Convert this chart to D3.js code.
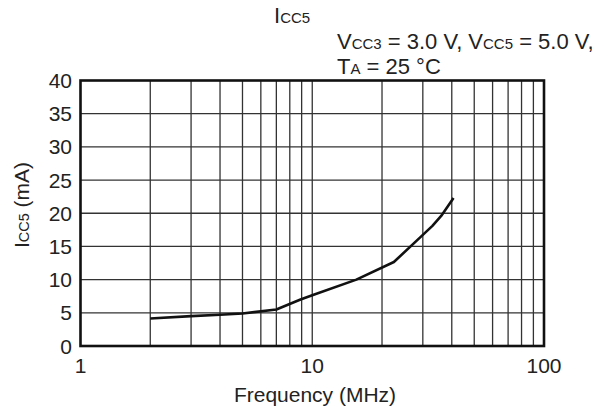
<!DOCTYPE html>
<html>
<head>
<meta charset="utf-8">
<script src="https://cdn.jsdelivr.net/npm/d3@7"></script>
<style>
  html, body { margin: 0; padding: 0; background: #fff; }
  svg { display: block; }
  text { font-family: "Liberation Sans", Arial, Helvetica, sans-serif; fill: #222; }
</style>
</head>
<body>
<svg id="chart" width="604" height="408"></svg>
<script>
// Data
const freqMHz = [2, 3, 4, 5, 7, 8.9, 10, 15.5, 22.5, 29.3, 33, 36, 40.7];
const iccMA   = [4.15, 4.5, 4.7, 4.9, 5.5, 7.0, 7.65, 10.0, 12.65, 16.4, 18.1, 19.6, 22.3];
const xTickLabels = [1, 10, 100];
const yTickLabels = [0, 5, 10, 15, 20, 25, 30, 35, 40];
const xGrid = [2, 3, 4, 5, 6, 7, 8, 9, 20, 30, 40, 50, 60, 70, 80, 90];

const svg = d3.select("#chart");
const L = 80.5, R = 544, T = 80.5, B = 346;

const x = d3.scaleLog().domain([1, 100]).range([L, R]);
const y = d3.scaleLinear().domain([0, 40]).range([B, T]);

const tick = 21, main = 22, sub = 15;

// grid
const g = svg.append("g");
g.selectAll("line.vx").data(xGrid.concat([10])).enter().append("line")
  .attr("x1", d => x(d)).attr("x2", d => x(d)).attr("y1", T).attr("y2", B)
  .attr("stroke", "#333").attr("stroke-width", 1.3);
g.selectAll("line.hy").data(yTickLabels.slice(1, -1)).enter().append("line")
  .attr("x1", L).attr("x2", R).attr("y1", d => y(d)).attr("y2", d => y(d))
  .attr("stroke", "#333").attr("stroke-width", 1.3);

// border
svg.append("rect").attr("x", L).attr("y", T).attr("width", R - L).attr("height", B - T)
  .attr("fill", "none").attr("stroke", "#111").attr("stroke-width", 2.6);

// curve
const pts = freqMHz.map((f, i) => [f, iccMA[i]]);
svg.append("path").datum(pts)
  .attr("d", d3.line().x(d => x(d[0])).y(d => y(d[1])))
  .attr("fill", "none").attr("stroke", "#111").attr("stroke-width", 2.6)
  .attr("stroke-linejoin", "round");

// tick labels
svg.selectAll("text.yt").data(yTickLabels).enter().append("text")
  .attr("x", 72).attr("y", d => y(d)).attr("dy", "0.36em")
  .attr("text-anchor", "end").attr("font-size", tick).text(d => d);
svg.selectAll("text.xt").data(xTickLabels).enter().append("text")
  .attr("x", d => x(d)).attr("y", 373)
  .attr("text-anchor", "middle").attr("font-size", tick).text(d => d);

// axis titles
svg.append("text").attr("x", 315).attr("y", 402).attr("text-anchor", "middle")
  .attr("font-size", tick).text("Frequency (MHz)");

const yt = svg.append("text").attr("transform", "translate(29,205) rotate(-90)")
  .attr("text-anchor", "middle").attr("font-size", tick);
yt.append("tspan").text("I");
yt.append("tspan").attr("font-size", 14.5).text("CC5");
yt.append("tspan").text(" (mA)");

// title
const tt = svg.append("text").attr("x", 274).attr("y", 23).attr("font-size", main);
tt.append("tspan").text("I");
tt.append("tspan").attr("font-size", sub).text("CC5");

// conditions
const c1 = svg.append("text").attr("x", 337).attr("y", 49).attr("font-size", main);
c1.append("tspan").text("V");
c1.append("tspan").attr("font-size", sub).text("CC3");
c1.append("tspan").text(" = 3.0 V, V");
c1.append("tspan").attr("font-size", sub).text("CC5");
c1.append("tspan").text(" = 5.0 V,");

const c2 = svg.append("text").attr("x", 337).attr("y", 74).attr("font-size", main);
c2.append("tspan").text("T");
c2.append("tspan").attr("font-size", sub).text("A");
c2.append("tspan").text(" = 25 °C");
</script>
</body>
</html>
